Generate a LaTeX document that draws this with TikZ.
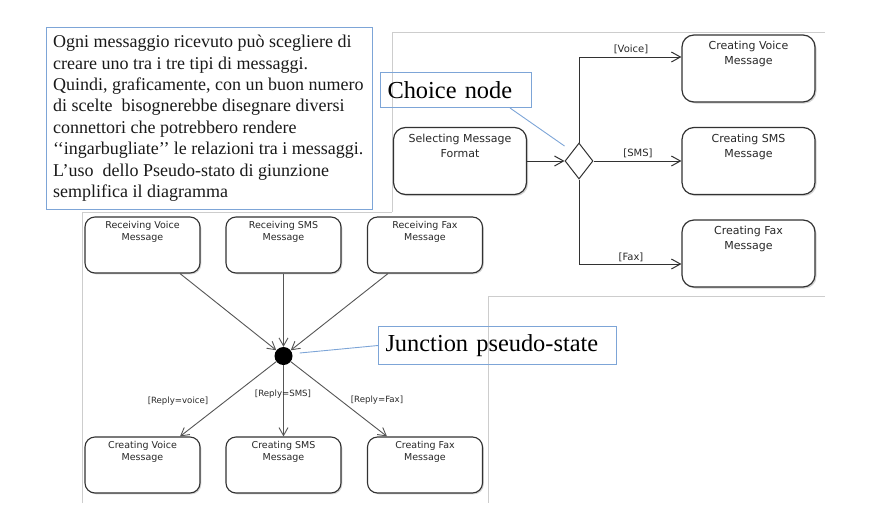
\documentclass[tikz,border=0pt]{standalone}
\usepackage{fontspec}
\setmainfont{Liberation Serif}
\newfontfamily\umlfont{DejaVu Sans}
\usetikzlibrary{arrows.meta,calc,shapes.geometric,shadows}
\definecolor{frameg}{RGB}{205,205,205}
\definecolor{callout}{RGB}{125,165,215}
\definecolor{umlline}{RGB}{50,50,50}
\definecolor{umlgray}{RGB}{85,85,85}
\definecolor{ink}{RGB}{25,25,25}
\definecolor{umlink}{RGB}{40,40,40}
\begin{document}
\begin{tikzpicture}[x=1pt,y=-1pt,
  panel/.style={draw=frameg, line width=0.9pt},
  callbox/.style={draw=callout, line width=1pt},
  callline/.style={draw=callout, line width=0.9pt},
  statebig/.style={draw=umlline, line width=1.2pt, rounded corners=12pt, fill=white,
    minimum width=133pt, minimum height=67pt, inner sep=0pt,
    drop shadow={shadow xshift=1.5pt, shadow yshift=-1.5pt, opacity=0.35}},
  statesmall/.style={draw=umlline, line width=1.1pt, rounded corners=10pt, fill=white,
    minimum width=115pt, minimum height=56pt, inner sep=0pt,
    drop shadow={shadow xshift=1.3pt, shadow yshift=-1.3pt, opacity=0.35}},
  bigtext/.style={font=\umlfont\fontsize{11}{15}\selectfont, text=umlink, align=center,
    anchor=north, inner sep=0pt, yshift=-7pt},
  smalltext/.style={font=\umlfont\fontsize{9.5}{12}\selectfont, text=umlink, align=center,
    anchor=north, inner sep=0pt, yshift=-5pt},
  lblR/.style={font=\umlfont\fontsize{10}{12}\selectfont, text=umlink, inner sep=0pt},
  lblL/.style={font=\umlfont\fontsize{8.6}{10}\selectfont, text=umlink, inner sep=0pt},
  flowR/.style={draw=umlline, line width=1pt, -{Straight Barb[length=9pt,width=10pt]}},
  flowL/.style={draw=umlgray, line width=0.9pt, -{Straight Barb[length=8pt,width=9pt]}},
]
\useasboundingbox (0,0) rectangle (888,522);

% screenshot frames
\draw[panel] (82,503) -- (82,212) -- (392,212);
\draw[panel] (392,212) -- (392,32) -- (825,32);
\draw[panel] (825,296) -- (488,296) -- (488,503);

% explanatory note
\node[callbox, anchor=north west, minimum width=326pt, minimum height=182pt, inner sep=0pt] (note) at (46,27) {};
\node[anchor=north west, align=left, inner sep=0pt, text=ink,
      font=\fontsize{18}{21.4}\selectfont] (notetext) at (53,35)
 {Ogni messaggio ricevuto può scegliere di\\
  creare uno tra i tre tipi di messaggi.\\
  Quindi, graficamente, con un buon numero\\
  di scelte\ \ bisognerebbe disegnare diversi\\
  connettori che potrebbero rendere\\
  ‘‘ingarbugliate’’ le relazioni tra i messaggi.\\
  L’uso\ \ dello Pseudo-stato di giunzione\\
  semplifica il diagramma};

% ---------- right panel: choice node ----------
\node[statebig, label={[bigtext]north:{Selecting Message\\Format}}] (sel) at (460,161) {};
\node[statebig, label={[bigtext]north:{Creating Voice\\Message}}] (cv2) at (748.5,68.5) {};
\node[statebig, label={[bigtext]north:{Creating SMS\\Message}}] (cs2) at (748.5,161) {};
\node[statebig, label={[bigtext]north:{Creating Fax\\Message}}] (cf2) at (748.5,253.5) {};
\node[diamond, draw=umlline, line width=1pt, fill=white, minimum width=28pt,
      minimum height=36pt, inner sep=0pt] (dm) at (579,161) {};

\draw[flowR] (sel.east) -- (dm.west);
\draw[flowR] (dm.north) |- ($(cv2.west)+(0,-11.5)$);
\draw[flowR] (dm.east) -- (cs2.west);
\draw[flowR] (dm.south) |- ($(cf2.west)+(0,10.5)$);
\node[lblR] (lv) at (631,49) {[Voice]};
\node[lblR] (ls) at (638,153) {[SMS]};
\node[lblR] (lf) at (631,257) {[Fax]};

% choice callout
\node[callbox, anchor=north west, minimum width=151pt, minimum height=35pt,
      text width=137pt, align=left, inner xsep=7pt, inner ysep=0pt,
      font=\fontsize{24.4}{26}\selectfont, text=black] (choice) at (380,72) {Choice node};
\draw[callline] ($(choice.south west)+(130,0)$) -- ($(dm.west)+(0,-15)$);

% ---------- left panel: junction ----------
\node[statesmall, label={[smalltext]north:{Receiving Voice\\Message}}] (rv) at (142.5,245) {};
\node[statesmall, label={[smalltext]north:{Receiving SMS\\Message}}] (rs) at (283.5,245) {};
\node[statesmall, label={[smalltext]north:{Receiving Fax\\Message}}] (rf) at (425,245) {};
\node[statesmall, label={[smalltext]north:{Creating Voice\\Message}}] (cv) at (142.5,465) {};
\node[statesmall, label={[smalltext]north:{Creating SMS\\Message}}] (cs) at (283.5,465) {};
\node[statesmall, label={[smalltext]north:{Creating Fax\\Message}}] (cf) at (425,465) {};
\node[circle, fill=black, minimum size=18pt, inner sep=0pt] (junc) at (283.5,356) {};

\draw[flowL] ($(rv.south)+(37.5,0)$) -- (junc);
\draw[flowL] (rs.south) -- (junc);
\draw[flowL] ($(rf.south)+(-37,0)$) -- (junc);
\draw[flowL] (junc) -- ($(cv.north)+(37.5,0)$);
\draw[flowL] (junc) -- (cs.north);
\draw[flowL] (junc) -- ($(cf.north)+(-38,0)$);
\node[lblL] (l1) at (178,401) {[Reply=voice]};
\node[lblL] (l2) at (283,394) {[Reply=SMS]};
\node[lblL] (l3) at (377,400) {[Reply=Fax]};

% junction callout
\node[callbox, anchor=north west, minimum width=238pt, minimum height=38pt,
      text width=224pt, align=left, inner xsep=7pt, inner ysep=0pt,
      font=\fontsize{24.4}{26}\selectfont, text=black] (jbox) at (378,326) {Junction pseudo-state};
\draw[callline] ($(junc.east)+(7,-3)$) -- (jbox.west);
\end{tikzpicture}
\end{document}
